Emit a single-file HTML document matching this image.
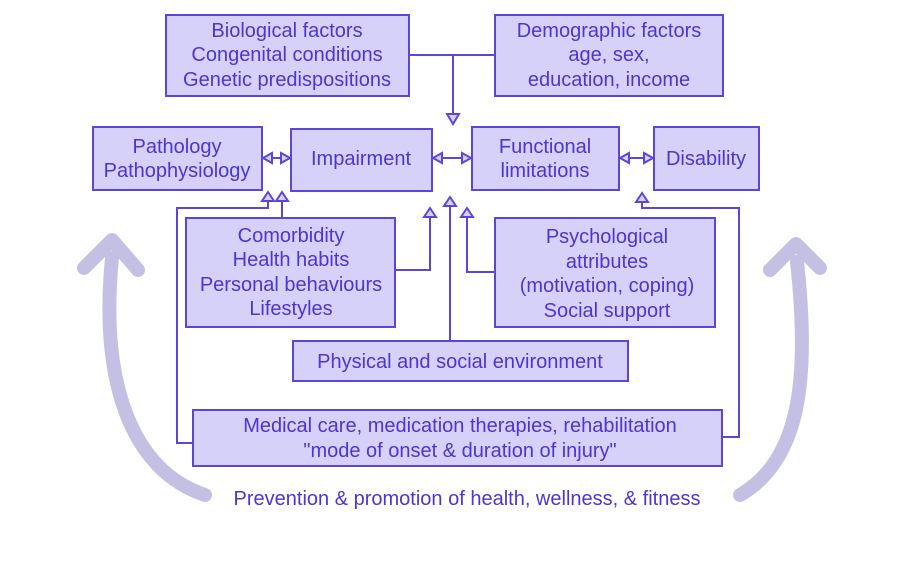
<!DOCTYPE html>
<html><head><style>
body{margin:0;background:#fff;}
svg{display:block;}
text{font-family:"Liberation Sans",sans-serif;font-size:20px;fill:#4b36cf;text-anchor:middle;}
.b{fill:#d6d1f8;stroke:#5b46d8;stroke-width:2;}
.l{fill:none;stroke:#5b46d8;stroke-width:2;}
.h{fill:#d6d1f8;stroke:#5b46d8;stroke-width:2;}
</style></head><body>
<svg width="900" height="563" viewBox="0 0 900 563">
<path d="M205,495 C130,470 100,380 112,258" fill="none" stroke="#c4c0e4" stroke-width="14" stroke-linecap="round"/>
<path d="M84,268 L112,240 L138,270" fill="none" stroke="#c4c0e4" stroke-width="14" stroke-linecap="round" stroke-linejoin="round"/>
<path d="M740,495 C800,460 810,380 797,262" fill="none" stroke="#c4c0e4" stroke-width="14" stroke-linecap="round"/>
<path d="M770,270 L796,244 L820,268" fill="none" stroke="#c4c0e4" stroke-width="14" stroke-linecap="round" stroke-linejoin="round"/>

<rect class="b" x="166" y="15" width="243" height="81"/>
<rect class="b" x="495" y="15" width="228" height="81"/>
<rect class="b" x="93" y="127" width="169" height="63"/>
<rect class="b" x="291" y="129" width="141" height="62"/>
<rect class="b" x="472" y="127" width="147" height="63"/>
<rect class="b" x="654" y="127" width="105" height="63"/>
<rect class="b" x="186" y="218" width="209" height="109"/>
<rect class="b" x="495" y="218" width="220" height="109"/>
<rect class="b" x="293" y="341" width="335" height="40"/>
<rect class="b" x="193" y="410" width="529" height="56"/>

<path class="l" d="M409,55 H495 M453,55 V116"/>
<path class="h" d="M447,114 L459,114 L453,124 Z"/>
<path class="l" d="M270,158 H283 M440,158 H464 M627,158 H646"/>
<path class="h" d="M263,158 L272,153 L272,163 Z M290,158 L281,153 L281,163 Z"/>
<path class="h" d="M433,158 L442,153 L442,163 Z M471,158 L462,153 L462,163 Z"/>
<path class="h" d="M620,158 L629,153 L629,163 Z M653,158 L644,153 L644,163 Z"/>
<path class="l" d="M282,218 V200 M193,443 H177 V208 H268 V200 M395,270 H430 V216 M450,341 V205 M495,272 H467 V216 M722,437 H739 V208 H642 V201"/>
<path class="h" d="M282,192 L276,201 L288,201 Z M268,192 L262,201 L274,201 Z M430,208 L424,217 L436,217 Z M450,197 L444,206 L456,206 Z M467,208 L461,217 L473,217 Z M642,193 L636,202 L648,202 Z"/>

<text x="287" y="37">Biological factors</text>
<text x="287" y="61">Congenital conditions</text>
<text x="287" y="86">Genetic predispositions</text>
<text x="609" y="37">Demographic factors</text>
<text x="609" y="61">age, sex,</text>
<text x="609" y="86">education, income</text>
<text x="177" y="153">Pathology</text>
<text x="177" y="177">Pathophysiology</text>
<text x="361" y="165">Impairment</text>
<text x="545" y="153">Functional</text>
<text x="545" y="177">limitations</text>
<text x="706" y="165">Disability</text>
<text x="291" y="242">Comorbidity</text>
<text x="291" y="266">Health habits</text>
<text x="291" y="291">Personal behaviours</text>
<text x="291" y="315">Lifestyles</text>
<text x="607" y="243">Psychological</text>
<text x="607" y="268">attributes</text>
<text x="607" y="292">(motivation, coping)</text>
<text x="607" y="317">Social support</text>
<text x="460" y="368">Physical and social environment</text>
<text x="460" y="432">Medical care, medication therapies, rehabilitation</text>
<text x="460" y="457">"mode of onset &amp; duration of injury"</text>
<text x="467" y="505">Prevention &amp; promotion of health, wellness, &amp; fitness</text>
</svg>
</body></html>
